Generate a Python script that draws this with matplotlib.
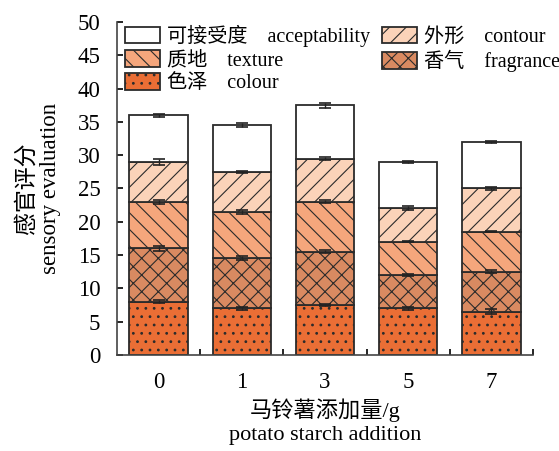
import numpy as np
import matplotlib
matplotlib.use("Agg")
import matplotlib.pyplot as plt

plt.rcParams['font.family'] = ['Liberation Serif', 'Noto Sans CJK SC']
plt.rcParams['hatch.linewidth'] = 0.8

# potato starch addition (g)
groups = ['0', '1', '3', '5', '7']

# score of each sensory item, stacked bottom -> top
colour = [8.0, 7.0, 7.5, 7.0, 6.5]
fragrance = [8.0, 7.5, 8.0, 5.0, 6.0]
texture = [7.0, 7.0, 7.5, 5.0, 6.0]
contour = [6.0, 6.0, 6.5, 5.0, 6.5]
acceptability = [7.0, 7.0, 8.0, 7.0, 7.0]

# standard deviations
colour_err = [0.2, 0.2, 0.2, 0.2, 0.4]
fragrance_err = [0.4, 0.3, 0.2, 0.2, 0.2]
texture_err = [0.3, 0.3, 0.2, 0.1, 0.1]
contour_err = [0.4, 0.2, 0.2, 0.3, 0.2]
acceptability_err = [0.2, 0.3, 0.4, 0.2, 0.1]

layers = [
    (colour, colour_err, '#EA6E35', '..', '色泽    colour'),
    (fragrance, fragrance_err, '#D98A61', 'xx', '香气    fragrance'),
    (texture, texture_err, '#F5A67C', '\\\\', '质地    texture'),
    (contour, contour_err, '#FBD3B9', '//', '外形    contour'),
    (acceptability, acceptability_err, '#FFFFFF', '', '可接受度    acceptability'),
]

fig = plt.figure(figsize=(5.59, 4.51), dpi=100)
ax = fig.add_axes([0.2093, 0.2129, 0.7442, 0.7383])

x = np.arange(len(groups))
bottom = np.zeros(len(groups))
handles = {}
for vals, err, col, hatch, lab in layers:
    vals = np.array(vals)
    b = ax.bar(x, vals, 0.7, bottom=bottom, color=col, edgecolor='#2b2b2b',
               linewidth=1.3, hatch=hatch, label=lab, zorder=2)
    ax.errorbar(x, bottom + vals, yerr=err, fmt='none', ecolor='#222222',
                elinewidth=1.0, capsize=4, capthick=1.2, zorder=3)
    handles[lab] = b
    bottom = bottom + vals

order = ['可接受度    acceptability', '质地    texture', '色泽    colour',
         '外形    contour', '香气    fragrance']
ax.legend([handles[k] for k in order], order, ncol=2, frameon=False,
          loc='upper left', bbox_to_anchor=(0.0, 1.016), fontsize=14.5,
          handlelength=1.75, handleheight=0.9, columnspacing=0.55,
          handletextpad=0.35, labelspacing=0.15, borderaxespad=0.0)

ax.set_xlim(-0.5, 4.5)
ax.set_ylim(0, 50)
ax.set_yticks(np.arange(0, 51, 5))
ax.set_xticks(x)
ax.set_xticklabels(groups)
ax.set_xticks(x + 0.5, minor=True)
ax.tick_params(axis='x', which='major', length=0, pad=12, labelsize=16.5)
ax.tick_params(axis='x', which='minor', direction='in', length=4, width=1.2)
ax.tick_params(axis='y', direction='in', length=4, width=1.2, labelsize=16.5, pad=12)

for s in ['top', 'right']:
    ax.spines[s].set_visible(False)
for s in ['left', 'bottom']:
    ax.spines[s].set_linewidth(1.2)
    ax.spines[s].set_color('#444444')

ax.set_ylabel('感官评分\nsensory evaluation', fontsize=16.5, linespacing=1.15, labelpad=12)
ax.set_xlabel('马铃薯添加量/g\npotato starch addition', fontsize=16, linespacing=1.3, labelpad=4)

fig.savefig('out.png', dpi=100)
